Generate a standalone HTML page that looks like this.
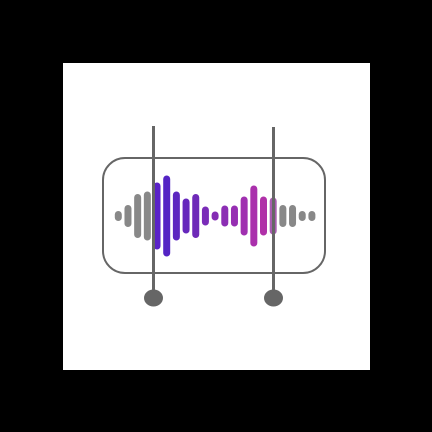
<!DOCTYPE html>
<html><head><meta charset="utf-8"><style>
html,body{margin:0;padding:0;background:#000;width:432px;height:432px;overflow:hidden}
</style></head><body>
<svg width="432" height="432" viewBox="0 0 432 432">
<rect x="63" y="63" width="307" height="307" fill="#fff"/>
<rect x="103" y="158" width="222" height="115" rx="22" fill="none" stroke="#666" stroke-width="2"/>
<g id="bars"></g>
<line x1="153.5" y1="126" x2="153.5" y2="296" stroke="#666" stroke-width="3"/>
<ellipse cx="153.5" cy="298" rx="9.5" ry="8.5" fill="#666"/>
<line x1="273.5" y1="127" x2="273.5" y2="296" stroke="#666" stroke-width="3"/>
<ellipse cx="273.5" cy="298" rx="9.5" ry="8.5" fill="#666"/>
</svg>
<script>
const barHeights=[10,22,44,49,67,81,49,35,44,19,9,21,21,39,61,39,37,22,22,10,10];
const barColors=["#888","#888","#888","#888","#5a22c8","#5424c4","#5c26c0","#6628bc","#6e2ab8","#7a2cb8","#842cb4","#8c2eb4","#962eb2","#a030b0","#aa30ac","#b030a8","#a85cb0","#888","#888","#888","#888"];
const g=document.getElementById('bars');
const x0=118.3, step=9.68, cy=216, w=7;
barHeights.forEach((h,i)=>{
  const r=document.createElementNS('http://www.w3.org/2000/svg','rect');
  const hh=Math.max(h,w);
  r.setAttribute('x',x0+i*step-w/2);
  r.setAttribute('y',cy-hh/2);
  r.setAttribute('width',w);
  r.setAttribute('height',hh);
  r.setAttribute('rx',w/2);
  r.setAttribute('fill',barColors[i]);
  
  
  g.appendChild(r);
});
</script>
</body></html>
